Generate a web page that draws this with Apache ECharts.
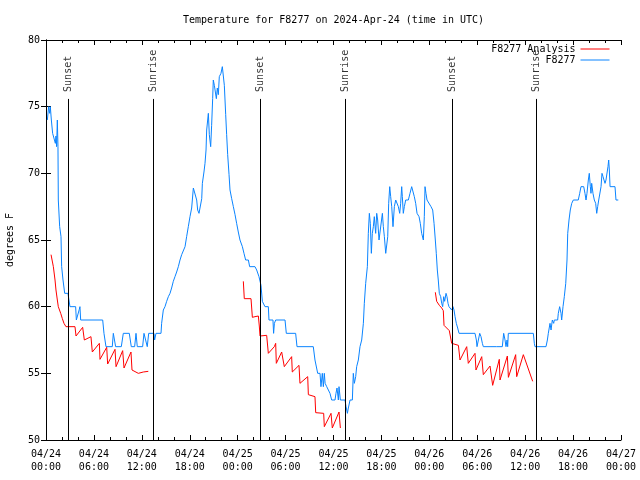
<!DOCTYPE html>
<html>
<head>
<meta charset="utf-8">
<script src="https://cdn.jsdelivr.net/npm/echarts@6/dist/echarts.min.js"></script>
<style>html,body{margin:0;padding:0;background:#fff}#c{width:640px;height:480px}</style>
</head>
<body>
<div id="c"></div>
<script>
// hours since 2024-04-24 00:00 UTC, temperature (degrees F)
const tickLabels = ['04/24\n00:00','04/24\n06:00','04/24\n12:00','04/24\n18:00','04/25\n00:00','04/25\n06:00','04/25\n12:00','04/25\n18:00','04/26\n00:00','04/26\n06:00','04/26\n12:00','04/26\n18:00','04/27\n00:00'];

const observed = [
[0.17,74],[0.33,75],[0.46,74.5],[0.54,75],[0.67,74],[0.83,73],[1.08,73],[1.17,72.25],[1.25,72.8],[1.33,72],[1.42,74],[1.5,72],[1.54,68],[1.71,66],[1.88,65.25],[1.96,63],[2.13,62],[2.34,61],[2.75,61],[3.0,60],[3.71,60],[3.8,59],[4.05,59],[4.17,59.8],[4.25,60],[4.34,59],[7.1,59],[7.26,58],[7.51,57],[8.3,57],[8.43,58],[8.6,58],[8.72,57],[9.43,57],[9.68,58],[10.43,58],[10.68,57],[11.1,57],[11.27,58],[11.43,57],[12.1,57],[12.27,58],[12.5,58],[12.68,57],[12.86,58],[13.52,58],[13.6,57.5],[13.77,58],
[14.4,58],[14.48,58.75],[14.69,59.75],[14.9,60],[15.11,60.4],[15.32,60.75],[15.53,61],[15.73,61.4],[15.94,61.9],[16.15,62.25],[16.36,62.6],[16.57,63],[16.78,63.5],[16.99,63.9],[17.2,64],[17.41,64.5],[17.61,65.25],[17.82,66],[18.03,66.75],[18.24,67.4],[18.45,68.9],[18.66,69],[18.87,68],[18.99,67.25],[19.16,67],[19.41,67],[19.5,68.1],[19.58,69.25],[19.78,70.1],[19.91,70.75],[20.04,71.75],[20.12,73.25],[20.33,74.5],[20.45,72.9],[20.62,72],[20.74,73.6],[20.87,75.6],[20.95,77],[21.08,76.6],[21.2,76.75],[21.33,75.6],[21.45,76.4],[21.58,75.9],[21.7,77.25],[21.91,77.5],[22.08,78],[22.29,78],[22.33,76.6],[22.5,74.4],[22.62,72.9],[22.75,71.4],[22.92,69.9],[23.04,68.75],[23.25,68.1],[23.46,67.5],[23.67,66.9],[23.87,66.25],[24.08,65.6],[24.29,65],[24.59,64.5],[24.79,64],[25.0,63.5],[25.34,63.5],[25.5,63],[26.17,63],[26.38,62.75],[26.67,62.25],[26.92,61.6],[27.09,60.4],[27.42,60],[27.84,60],
[27.92,59],[28.42,59],[28.5,58],[28.6,58.75],[28.76,59],[29.93,59],[30.09,58],[31.26,58],[31.43,57],[33.47,57],[33.68,56],[33.85,56],[34.02,55],[34.31,55],[34.43,54],[34.6,55],[34.73,54],[34.85,55],[34.95,54.25],[35.15,54],[35.56,53.5],[35.77,53],[36.19,53],[36.31,53.5],[36.44,53.9],[36.61,53],[36.69,54],[36.86,53],[37.44,53],[37.57,52.5],[37.74,52],[37.86,52.4],[38.07,53],[38.36,53],[38.48,55],[38.61,54.25],[38.78,54.75],[38.9,55.5],[39.11,56],[39.32,57],[39.53,57.5],[39.74,58.75],[39.86,60.25],[40.03,61.75],[40.24,63],[40.36,65.5],[40.49,67],[40.61,66.25],[40.74,64],[40.86,65.5],[40.99,66],[41.11,66.75],[41.28,65.5],[41.41,67],[41.53,66.5],[41.7,65],
[41.95,65],[42.12,67],[42.24,66],[42.37,65.25],[42.54,64],[42.7,64],[42.79,65.25],[42.91,67.75],[43.04,69],[43.16,68.25],[43.29,67.5],[43.45,66],[43.62,67.5],[43.79,68],[43.95,68],[44.12,67.5],[44.29,67],[44.41,67.75],[44.54,69],[44.62,68.25],[44.74,67],[44.87,67.5],[45.04,68],[45.37,68],[45.58,68.5],[45.79,69],[46.0,69],[46.12,68.25],[46.29,67.75],[46.46,67],[46.71,66.75],[46.87,66.25],[47.04,65.5],[47.25,65],[47.37,66.75],[47.46,69],[47.58,68.5],[47.71,68],[47.96,68],[48.21,67.5],[48.42,67.25],[48.59,66.25],[48.75,65],[48.87,64],[49.0,62.75],[49.12,62],[49.25,61],[49.42,60.75],[49.55,60.25],[49.67,60],[49.8,60.75],[49.92,60.4],[50.09,61],[50.21,60.75],[50.34,60.25],[50.46,60],[50.63,60],[50.8,59.75],[50.96,60],[51.09,59.75],[51.22,59.25],[51.38,58.75],[51.55,58.4],[51.72,58],[53.72,58],[53.89,57.5],[53.97,57],[54.14,57.5],[54.31,58],[54.47,57.75],[54.64,57.25],[54.76,57],
[55.6,57],[56.43,57],[57.14,57],[57.31,58],[57.48,57.5],[57.6,57],[57.73,57.5],[57.81,57],[57.89,58],[61.02,58],[61.15,57.25],[61.23,57],[62.61,57],[62.78,57.5],[62.9,58],[63.11,58.75],[63.24,58.25],[63.4,59],[63.57,58.75],[63.65,59],[64.07,59],[64.15,59.5],[64.32,60],[64.49,59.5],[64.57,59],[64.74,60],[64.9,60.75],[65.08,61.75],[65.24,63.5],[65.33,65.5],[65.49,66.5],[65.65,67.25],[65.83,67.75],[66.03,68],[66.65,68],[66.83,68.5],[66.99,69],[67.33,69],[67.49,68.5],[67.62,68],[67.74,68.5],[67.91,69.5],[68.03,70],[68.16,69],[68.24,68.5],[68.33,69.25],[68.49,68.5],[68.66,68],[68.83,67.75],[68.96,67],[69.08,67.5],[69.21,68],[69.41,68],[69.5,69],[69.62,70],[69.75,69.75],[69.87,69.5],[70.0,69.25],[70.12,69.5],[70.25,69.5],[70.37,70.5],[70.46,71],[70.54,70.25],[70.63,69],[71.25,69],[71.37,68],[71.66,68]
];

const analysisNight1 = [[0.63,63.9],[0.83,63.9],[0.92,63],[1.13,62],[1.25,61.25],[1.42,60.5],[1.54,60],[1.67,59.9],[1.84,59.5],[2.05,59.1],[2.25,58.75],[2.5,58.5],[3.63,58.5],[3.76,57.8],[4.59,58.45],[4.8,57.5],[5.63,57.75],[5.8,56.6],[6.68,57.25],[6.76,56.05],[7.6,56.95],[7.72,55.7],[8.64,56.8],[8.77,55.5],[9.6,56.7],[9.77,55.4],[10.64,56.6],[10.77,55.25],[11.56,55.0],[12.18,55.1],[12.81,55.15]];
const analysisNight2 = [[24.71,61.9],[24.83,60.6],[25.67,60.6],[25.84,59.2],[26.17,59.25],[26.59,59.3],[26.71,58.55],[26.8,57.8],[27.63,57.85],[27.84,56.5],[28.59,57.0],[28.76,57.25],[28.84,55.75],[29.51,56.6],[29.68,56.75],[29.84,55.5],[30.76,56.25],[30.84,55.1],[31.68,55.6],[31.8,54.25],[32.77,54.75],[32.85,53.4],[33.68,53.25],[33.77,52.05],[34.77,52.0],[34.85,51.0],[35.69,52.0],[35.85,50.9],[36.69,52.1],[36.86,50.9]];
const analysisNight3 = [[48.75,61.08],[48.92,60.4],[49.25,60.1],[49.55,59.9],[49.75,59.7],[49.84,58.6],[50.17,58.4],[50.5,58.2],[50.71,58.05],[50.8,57.25],[51.0,57.2],[51.64,57.1],[51.84,56.0],[52.68,57.0],[52.88,55.75],[53.72,56.5],[53.84,55.25],[54.56,56.25],[54.76,54.9],[55.6,55.55],[55.93,54.1],[56.76,56.05],[56.85,54.5],[57.77,56.3],[57.9,54.7],[58.81,56.4],[58.94,54.75],[59.77,56.4],[60.94,54.4]];

const sunTimes = [2.79, 13.44, 26.84, 37.48, 50.88, 61.4];
const sunNames = ['Sunset','Sunrise','Sunset','Sunrise','Sunset','Sunrise'];
const sunLineTop = 75.58;

const FONT = 'DejaVu Sans Mono';
const RED = '#ff0000', BLUE = '#0a84ff';

const chart = echarts.init(document.getElementById('c'), null, {renderer: 'canvas'});

const axisCommonX = {
  type: 'value', min: 0, max: 72, interval: 6,
  axisLine: {show: true, lineStyle: {color: '#000', width: 1}},
  axisTick: {show: true, inside: true, length: 5, lineStyle: {color: '#000'}},
  minorTick: {show: true, splitNumber: 3, length: 3, lineStyle: {color: '#000'}},
  splitLine: {show: false}, minorSplitLine: {show: false}
};
const axisCommonY = {
  type: 'value', min: 50, max: 80, interval: 5,
  axisLine: {show: true, lineStyle: {color: '#000', width: 1}},
  axisTick: {show: true, inside: true, length: 5, lineStyle: {color: '#000'}},
  splitLine: {show: false}
};

const redSeries = [analysisNight1, analysisNight2, analysisNight3].map(d => ({
  name: 'F8277 Analysis', type: 'line', data: d, showSymbol: false, symbol: 'none',
  lineStyle: {color: RED, width: 1}, itemStyle: {color: RED}, z: 3, silent: true
}));

chart.setOption({
  animation: false,
  backgroundColor: '#fff',
  title: {
    text: 'Temperature for F8277 on 2024-Apr-24 (time in UTC)',
    left: 183, top: 15, padding: 0,
    textStyle: {fontFamily: FONT, fontSize: 10, fontWeight: 'normal', color: '#000'}
  },
  legend: {
    data: ['F8277 Analysis', 'F8277'],
    orient: 'vertical', align: 'right', right: 30, top: 44,
    itemWidth: 29, itemHeight: 12, itemGap: 1, padding: 0,
    itemStyle: {opacity: 0},
    lineStyle: {width: 1},
    textStyle: {fontFamily: FONT, fontSize: 10, color: '#000'},
    selectedMode: false
  },
  grid: {left: 46, right: 19, top: 40, bottom: 40, containLabel: false, outerBoundsMode: 'none'},
  xAxis: [
    Object.assign({}, axisCommonX, {
      position: 'bottom',
      axisLabel: {show: true, margin: 8, fontFamily: FONT, fontSize: 10, color: '#000', lineHeight: 13,
        formatter: v => tickLabels[Math.round(v / 6)]}
    }),
    Object.assign({}, axisCommonX, {position: 'top', axisLabel: {show: false}})
  ],
  yAxis: [
    Object.assign({}, axisCommonY, {
      position: 'left', name: 'degrees F', nameLocation: 'middle', nameGap: 31,
      nameTextStyle: {fontFamily: FONT, fontSize: 10, color: '#000'},
      axisLabel: {show: true, margin: 6, fontFamily: FONT, fontSize: 10, color: '#000'}
    }),
    Object.assign({}, axisCommonY, {position: 'right', axisLabel: {show: false}})
  ],
  series: redSeries.concat([
    {
      name: 'F8277', type: 'line', data: observed, showSymbol: false, symbol: 'none',
      lineStyle: {color: BLUE, width: 1}, itemStyle: {color: BLUE}, z: 2, silent: true
    },
    {
      name: 'sun', type: 'scatter', symbolSize: 0, silent: true, z: 4,
      data: sunTimes.map((t, i) => ({value: [t, sunLineTop], name: sunNames[i]})),
      label: {
        show: true, position: 'top', distance: 7, rotate: 90, align: 'left', verticalAlign: 'middle',
        formatter: p => p.name, fontFamily: FONT, fontSize: 10, color: '#000'
      },
      markLine: {
        silent: true, symbol: ['none', 'none'], animation: false,
        lineStyle: {color: '#000', width: 1, type: 'solid'},
        label: {show: false},
        data: sunTimes.map(t => [{coord: [t, 50]}, {coord: [t, sunLineTop]}])
      }
    }
  ])
});
</script>
</body>
</html>
